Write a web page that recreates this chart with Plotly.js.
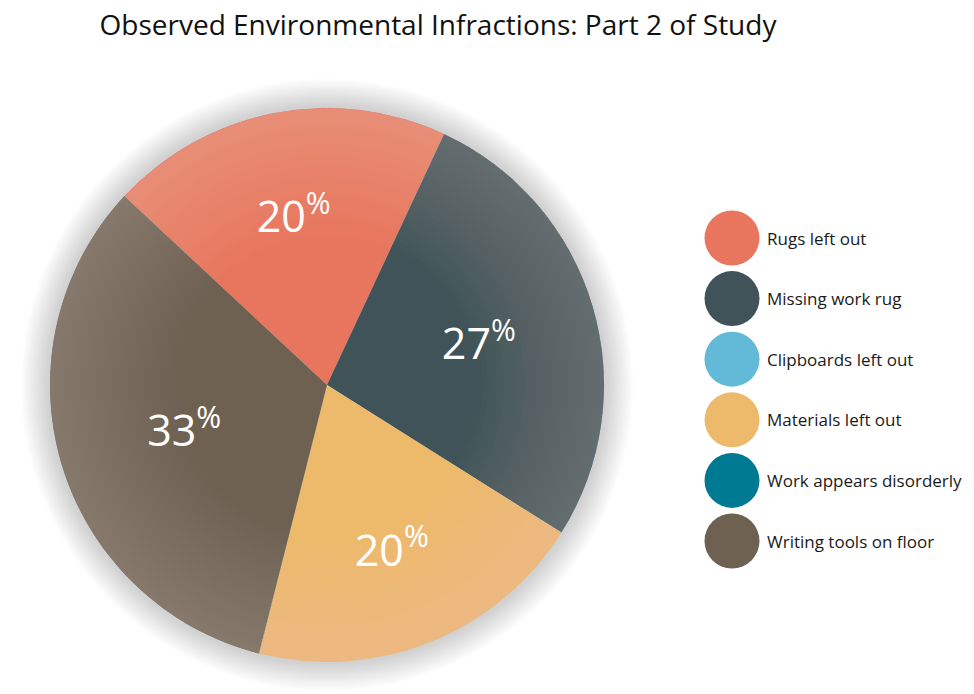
<!DOCTYPE html>
<html>
<head>
<meta charset="utf-8">
<script src="https://cdn.plot.ly/plotly-3.0.1.min.js"></script>
<style>html,body{margin:0;padding:0;background:#fff;}#chart{width:974px;height:694px;}</style>
</head>
<body>
<div id="chart"></div>
<script>
// ---- data ----
var categories = ["Rugs left out", "Missing work rug", "Clipboards left out", "Materials left out", "Work appears disorderly", "Writing tools on floor"];
var percents = [20, 27, 0, 20, 0, 33];
var colors = ["#E8765E", "#3F5358", "#62B9D8", "#EDB96A", "#007A92", "#6E6152"];
var chartTitle = "Observed Environmental Infractions: Part 2 of Study";

// ---- layout geometry (pixels) ----
var W = 974, H = 694;
var cx = 327, cy = 385, R = 277;
function px(x) { return x / W; }
function py(y) { return 1 - y / H; }

// pie uses only non-zero slices (zero slices have no area)
var pLabels = [], pValues = [], pColors = [];
for (var i = 0; i < categories.length; i++) {
  if (percents[i] > 0) { pLabels.push(categories[i]); pValues.push(percents[i]); pColors.push(colors[i]); }
}

var pie = {
  type: "pie",
  labels: pLabels,
  values: pValues,
  marker: { colors: pColors, line: { width: 0 } },
  sort: false,
  direction: "clockwise",
  rotation: -47,
  textinfo: "text",
  texttemplate: "%{value}<sup>%</sup>",
  textposition: "inside",
  insidetextorientation: "horizontal",
  textfont: { family: "Open Sans, sans-serif", size: 43, color: "#ffffff" },
  hoverinfo: "label+percent",
  showlegend: false,
  domain: { x: [px(cx - R), px(cx + R)], y: [py(cy + R), py(cy - R)] }
};

var shapes = [];
// soft glow behind pie
var glowSteps = 16;
for (var k = glowSteps; k >= 1; k--) {
  var rr = R + k * 1.8;
  shapes.push({
    type: "circle", layer: "below", xref: "paper", yref: "paper",
    x0: px(cx - rr), x1: px(cx + rr), y0: py(cy + rr), y1: py(cy - rr),
    fillcolor: "rgba(115,135,148,0.022)", line: { width: 0 }
  });
}
// rim lightening (annuli approximated by polygons)
function annulus(r1, r2) {
  var n = 180, s = "";
  for (var j = 0; j <= n; j++) {
    var a = 2 * Math.PI * j / n;
    s += (j === 0 ? "M" : "L") + px(cx + r2 * Math.cos(a)) + "," + py(cy + r2 * Math.sin(a));
  }
  for (var j2 = n; j2 >= 0; j2--) {
    var a2 = 2 * Math.PI * j2 / n;
    s += "L" + px(cx + r1 * Math.cos(a2)) + "," + py(cy + r1 * Math.sin(a2));
  }
  return s + "Z";
}
var rimSteps = 24;
for (var m = 0; m < rimSteps; m++) {
  shapes.push({
    type: "path", layer: "above", xref: "paper", yref: "paper",
    path: annulus(150 + m * 5.3, R),
    fillcolor: "rgba(255,255,255,0.011)", line: { width: 0 }
  });
}

// legend (circles + labels)
var annotations = [];
var legX = 732, legY0 = 238, legStep = 60.6, legR = 27.5;
for (var i2 = 0; i2 < categories.length; i2++) {
  var ly = legY0 + i2 * legStep;
  shapes.push({
    type: "circle", xref: "paper", yref: "paper",
    x0: px(legX - legR), x1: px(legX + legR), y0: py(ly + legR), y1: py(ly - legR),
    fillcolor: colors[i2], line: { width: 0 }
  });
  annotations.push({
    xref: "paper", yref: "paper", x: px(765), y: py(ly), xanchor: "left", yanchor: "middle",
    text: categories[i2], showarrow: false,
    font: { family: "Open Sans, sans-serif", size: 17, color: "#1a1a1a" }
  });
}

var layout = {
  width: W, height: H,
  margin: { l: 0, r: 0, t: 0, b: 0 },
  paper_bgcolor: "#ffffff",
  title: {
    text: chartTitle,
    x: px(438), xanchor: "center",
    y: py(25), yanchor: "middle", yref: "container",
    font: { family: "Open Sans, sans-serif", size: 28, color: "#111111" }
  },
  shapes: shapes,
  annotations: annotations
};

Plotly.newPlot("chart", [pie], layout, { displayModeBar: false, staticPlot: true });
</script>
</body>
</html>
